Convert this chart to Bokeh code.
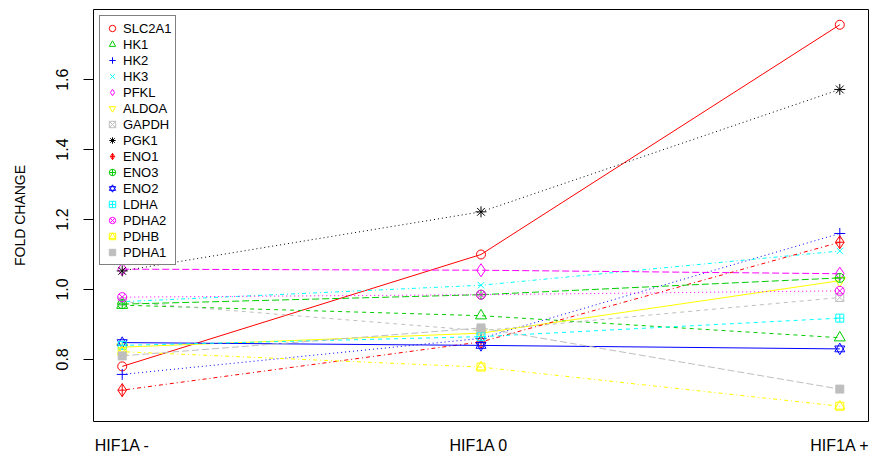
import math
from bokeh.plotting import figure
from bokeh.models import Range1d, FixedTicker, Legend, LegendItem, PrintfTickFormatter
from bokeh.embed import file_html
from bokeh.resources import INLINE

# ---- data ----
genes = ["SLC2A1", "HK1", "HK2", "HK3", "PFKL", "ALDOA", "GAPDH", "PGK1",
         "ENO1", "ENO3", "ENO2", "LDHA", "PDHA2", "PDHB", "PDHA1"]
conditions = ["HIF1A -", "HIF1A  0", "HIF1A +"]
hif_minus = [0.780, 0.955, 0.757, 0.965, 1.058, 0.835, 0.965, 1.053,
             0.712, 0.958, 0.848, 0.840, 0.978, 0.822, 0.810]
hif_zero = [1.100, 0.925, 0.860, 1.012, 1.055, 0.875, 0.882, 1.222,
            0.850, 0.985, 0.840, 0.865, 0.985, 0.778, 0.890]
hif_plus = [1.757, 0.862, 1.160, 1.110, 1.045, 1.025, 0.977, 1.572,
            1.135, 1.033, 0.830, 0.918, 0.996, 0.666, 0.715]
y_ticks = [0.8, 1.0, 1.2, 1.4, 1.6]

# ---- styles (R-like palette, lty 1:5, pch 1:15) ----
palette = ["#FF0000", "#00CD00", "#0000FF", "#00FFFF", "#FF00FF", "#FFFF00", "#BEBEBE", "#000000"]
dashes = ["solid", "4 4", "1 3", "1 3 4 3", "7 3"]
markers = [["circle"], ["triangle"], ["cross"], ["x"], ["diamond"], ["inverted_triangle"],
           ["square_x"], ["asterisk"], ["diamond_cross"], ["circle_cross"],
           ["triangle", "inverted_triangle"], ["square_cross"], ["circle_x"],
           ["square", "triangle"], ["square"]]
msize = {"circle": 9, "triangle": 11, "cross": 11, "x": 9, "diamond": 13, "inverted_triangle": 11,
         "square_x": 8, "asterisk": 11, "diamond_cross": 13, "circle_cross": 9,
         "square_cross": 8, "circle_x": 9, "square": 8}

FONT = "Liberation Sans"

xs = list(range(1, len(conditions) + 1))
allv = hif_minus + hif_zero + hif_plus
lo, hi = min(allv), max(allv)
ypad = 0.04 * (hi - lo)
xpad = 0.04 * (xs[-1] - xs[0])

p = figure(width=869, height=456, output_backend="svg", toolbar_location=None,
           x_range=Range1d(xs[0] - xpad, xs[-1] + xpad),
           y_range=Range1d(lo - ypad, hi + ypad),
           min_border_left=93, min_border_right=1, min_border_top=9, min_border_bottom=35)
p.grid.visible = False
p.outline_line_color = "black"
p.outline_line_width = 1
p.background_fill_color = "white"
p.border_fill_color = "white"

items = []
for i, g in enumerate(genes):
    col = palette[i % len(palette)]
    ys = [hif_minus[i], hif_zero[i], hif_plus[i]]
    p.line(xs, ys, line_color=col, line_width=1, line_dash=dashes[i % len(dashes)])
    rends = []
    for m in markers[i]:
        filled = (m == "square" and len(markers[i]) == 1)
        sz = msize[m]
        if len(markers[i]) > 1 and m != "square":
            sz = 10
        r = p.scatter(xs, ys, marker=m, size=sz, line_color=col, line_width=1,
                      fill_color=col if filled else None)
        rends.append(r)
    items.append(LegendItem(label=g, renderers=rends))

legend = Legend(items=items, location="top_left", margin=6, padding=4, spacing=0,
                glyph_width=16, glyph_height=16, label_height=16, label_standoff=3,
                label_text_font=FONT, label_text_font_size="13px", label_text_color="black",
                border_line_color="black", border_line_width=1,
                background_fill_color="white", background_fill_alpha=1.0)
p.add_layout(legend)

# y axis
ya = p.yaxis[0]
ya.ticker = FixedTicker(ticks=y_ticks)
ya.formatter = PrintfTickFormatter(format="%.1f")
ya.axis_line_color = None
ya.major_tick_line_color = "black"
ya.major_tick_out = 10
ya.major_tick_in = 0
ya.minor_tick_line_color = None
ya.major_label_orientation = "vertical"
ya.major_label_standoff = 15
ya.major_label_text_font = FONT
ya.major_label_text_font_size = "16px"
ya.major_label_text_color = "black"
ya.axis_label = "FOLD CHANGE"
ya.axis_label_text_font = FONT
ya.axis_label_text_font_size = "14px"
ya.axis_label_text_color = "black"
ya.axis_label_text_font_style = "normal"
ya.axis_label_standoff = 26

# x axis
xa = p.xaxis[0]
xa.ticker = FixedTicker(ticks=xs)
xa.major_label_overrides = {x: c for x, c in zip(xs, conditions)}
xa.axis_line_color = None
xa.major_tick_line_color = None
xa.major_tick_out = 0
xa.major_tick_in = 0
xa.minor_tick_line_color = None
xa.major_label_standoff = 15
xa.major_label_text_font = FONT
xa.major_label_text_font_size = "16px"
xa.major_label_text_color = "black"

open("out.html", "w").write(file_html(p, INLINE))
